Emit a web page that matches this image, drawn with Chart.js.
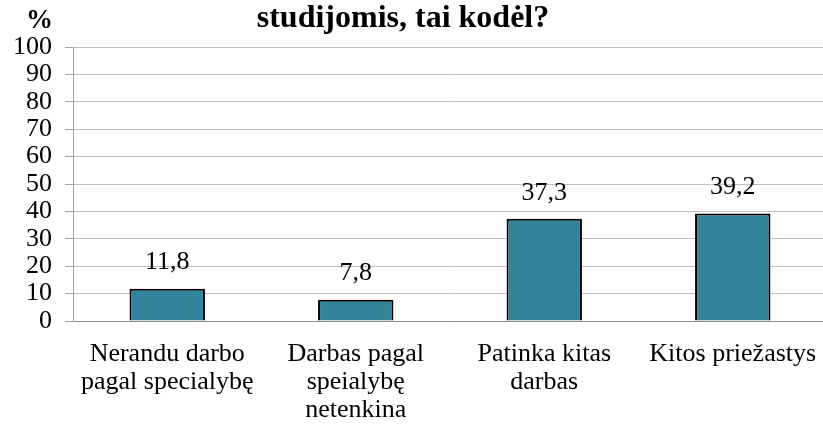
<!DOCTYPE html>
<html>
<head>
<meta charset="utf-8">
<script src="https://cdn.jsdelivr.net/npm/chart.js@4.4.1/dist/chart.umd.min.js"></script>
<style>
  html, body { margin: 0; padding: 0; background: #fff; overflow: hidden; }
  #wrap { width: 827px; height: 425px; position: relative; }
</style>
</head>
<body>
<div id="wrap"><canvas id="chart"></canvas></div>
<script>
// chart data
const categories = [
  ['Nerandu darbo', 'pagal specialybę'],
  ['Darbas pagal', 'speialybę', 'netenkina'],
  ['Patinka kitas', 'darbas'],
  'Kitos priežastys'
];
const values = [11.8, 7.8, 37.3, 39.2];
const valueLabels = ['11,8', '7,8', '37,3', '39,2'];
const titleText = 'studijomis, tai kodėl?';
const axisUnit = '%';

const serif = "'Liberation Serif', 'Times New Roman', Times, serif";

// title, unit and value labels drawn on the canvas
const textPlugin = {
  id: 'textPlugin',
  afterDatasetsDraw(chart) {
    const ctx = chart.ctx;
    ctx.save();
    ctx.fillStyle = '#000';
    ctx.textAlign = 'center';
    ctx.textBaseline = 'alphabetic';
    ctx.font = 'bold 32px ' + serif;
    ctx.fillText(titleText, 403, 27);
    ctx.font = 'bold 27px ' + serif;
    ctx.fillText(axisUnit, 39.5, 28);

    ctx.font = '26px ' + serif;
    ctx.textBaseline = 'middle';
    chart.getDatasetMeta(0).data.forEach((bar, i) => {
      ctx.fillText(valueLabels[i], bar.x, bar.y - 26);
    });
    ctx.restore();
  }
};

function draw() {
  new Chart(document.getElementById('chart'), {
    type: 'bar',
    data: {
      labels: categories,
      datasets: [{
        data: values,
        backgroundColor: '#31849b',
        borderColor: '#000000',
        borderWidth: 2,
        borderSkipped: 'bottom',
        barPercentage: 0.4,
        categoryPercentage: 1
      }]
    },
    options: {
      responsive: true,
      maintainAspectRatio: false,
      animation: false,
      layout: { padding: { top: 47, right: 0, left: 0, bottom: 0 } },
      plugins: {
        legend: { display: false },
        tooltip: { enabled: false }
      },
      scales: {
        x: {
          grid: { display: false, drawTicks: false },
          border: { color: '#8c8c8c', width: 1 },
          ticks: {
            color: '#000',
            font: { family: serif, size: 26, lineHeight: 1.08 },
            padding: 19,
            maxRotation: 0,
            autoSkip: false
          },
          afterFit(scale) {
            scale.height = 104;
            scale.paddingLeft = 0;
            scale.paddingRight = 0;
          }
        },
        y: {
          min: 0,
          max: 100,
          ticks: {
            stepSize: 10,
            autoSkip: false,
            color: '#000',
            font: { family: serif, size: 26, lineHeight: 1 },
            padding: 13
          },
          grid: { color: '#bfbfbf', lineWidth: 1, tickLength: 8, tickColor: '#a6a6a6' },
          border: { color: '#a6a6a6', width: 1 },
          afterFit(scale) {
            scale.width = 73;
            scale.paddingTop = 0;
            scale.paddingBottom = 0;
          }
        }
      }
    },
    plugins: [textPlugin]
  });
}

Promise.all([
  document.fonts.load('26px "Liberation Serif"'),
  document.fonts.load('bold 32px "Liberation Serif"')
]).then(draw, draw);
</script>
</body>
</html>
